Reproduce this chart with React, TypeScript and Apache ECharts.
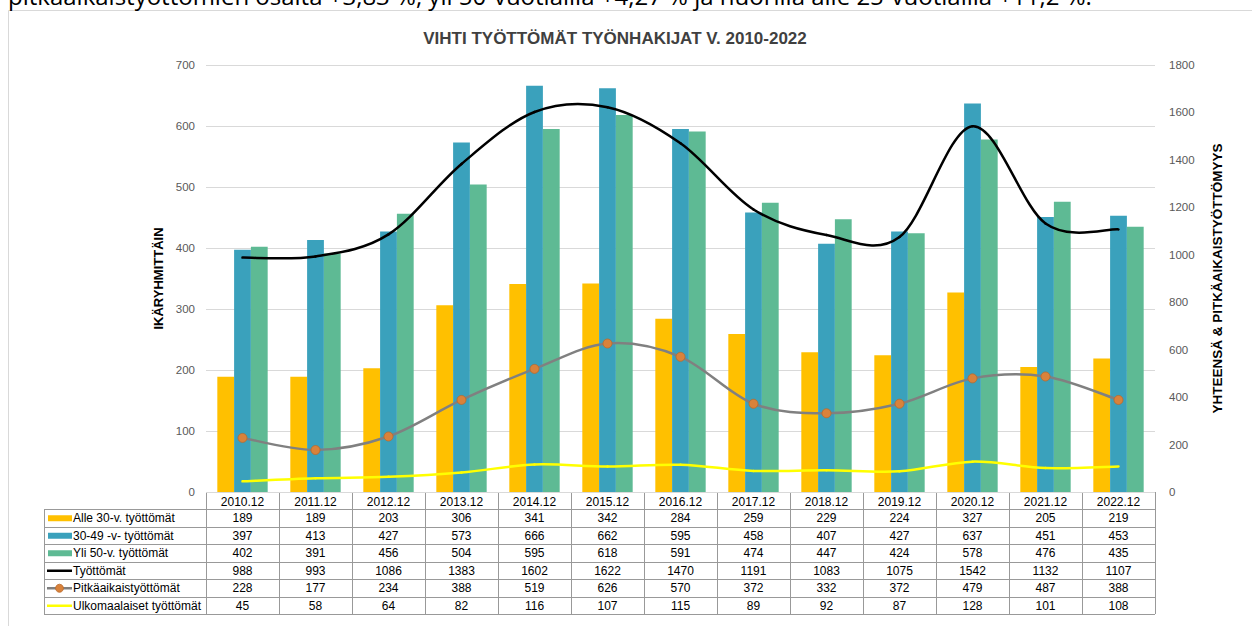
import React, { useEffect, useRef } from "react";
import * as echarts from "echarts";

const categories = ["2010.12","2011.12","2012.12","2013.12","2014.12","2015.12","2016.12","2017.12","2018.12","2019.12","2020.12","2021.12","2022.12"];
const alle30 = [189,189,203,306,341,342,284,259,229,224,327,205,219];
const v3049 = [397,413,427,573,666,662,595,458,407,427,637,451,453];
const yli50 = [402,391,456,504,595,618,591,474,447,424,578,476,435];
const tyottomat = [988,993,1086,1383,1602,1622,1470,1191,1083,1075,1542,1132,1107];
const pitka = [228,177,234,388,519,626,570,372,332,372,479,487,388];
const ulko = [45,58,64,82,116,107,115,89,92,87,128,101,108];

const seriesNames = ["Alle 30-v. työttömät","30-49 -v- työttömät","Yli 50-v. työttömät","Työttömät","Pitkäaikaistyöttömät","Ulkomaalaiset työttömät"];
const seriesData = [alle30, v3049, yli50, tyottomat, pitka, ulko];
const leftTicks = { min: 0, max: 700, interval: 100 };
const rightTicks = { min: 0, max: 1800, interval: 200 };

const titleText = "VIHTI TYÖTTÖMÄT TYÖNHAKIJAT V. 2010-2022";
const topText = "pitkäaikaistyöttömien osalta +3,83 %, yli 50-vuotiailla +4,27 % ja nuorilla alle 25-vuotiailla +11,2 %.";

const C_YEL = "#FFC000";
const C_TEAL = "#3AA1BC";
const C_GREEN = "#5EBA94";

function smoothLine(name: string, values: number[], color: string, width: number, z: number) {
  return {
    name,
    type: "custom",
    yAxisIndex: 1,
    z,
    data: values.map((v, i) => [i, v]),
    encode: { x: 0, y: 1 },
    renderItem: (params: any, api: any) => {
      const i = params.dataIndex;
      const n = values.length;
      if (i >= n - 1) return null;
      const pt = (k: number) => {
        const kk = Math.max(0, Math.min(n - 1, k));
        return api.coord([api.value(0, kk), api.value(1, kk)]);
      };
      const p0 = pt(i - 1), p1 = pt(i), p2 = pt(i + 1), p3 = pt(i + 2);
      const t = 1 / 6;
      return {
        type: "bezierCurve",
        shape: {
          x1: p1[0], y1: p1[1], x2: p2[0], y2: p2[1],
          cpx1: p1[0] + (p2[0] - p0[0]) * t, cpy1: p1[1] + (p2[1] - p0[1]) * t,
          cpx2: p2[0] - (p3[0] - p1[0]) * t, cpy2: p2[1] - (p3[1] - p1[1]) * t,
        },
        style: { stroke: color, lineWidth: width, fill: "none", lineCap: "round" },
      };
    },
  };
}

export default function App() {
  const ref = useRef<HTMLDivElement>(null);
  useEffect(() => {
    if (!ref.current) return;
    const chart = echarts.init(ref.current, null, { renderer: "svg" });
    const GL = 206, GR = 1155, GT = 65, GB = 492;
    const n = categories.length;
    const colW = (GR - GL) / n;
    const rowTop = 509, rowH = 17.5;
    const lineC = "#999999";
    const font = "Liberation Sans, Arial, sans-serif";

    const g: any[] = [];
    g.push({ type: "rect", shape: { x: 8.5, y: 10.5, width: 1260, height: 640 }, style: { fill: "none", stroke: "#d9d9d9", lineWidth: 1 }, silent: true });
    g.push({ type: "text", x: 8, y: 7, style: { text: topText, font: "24px 'Open Sans', sans-serif", fill: "#000", verticalAlign: "bottom" } });
    g.push({ type: "line", shape: { x1: GL, y1: GB + 0.5, x2: GR, y2: GB + 0.5 }, style: { stroke: lineC, lineWidth: 1 } });
    for (let r = 0; r <= 6; r++) {
      const y = Math.round(rowTop + r * rowH) + 0.5;
      g.push({ type: "line", shape: { x1: 44, y1: y, x2: GR, y2: y }, style: { stroke: lineC, lineWidth: 1 } });
    }
    for (let i = 0; i <= n; i++) {
      const x = Math.round(GL + i * colW) + 0.5;
      g.push({ type: "line", shape: { x1: x, y1: GB, x2: x, y2: rowTop + 6 * rowH }, style: { stroke: lineC, lineWidth: 1 } });
    }
    g.push({ type: "line", shape: { x1: 44.5, y1: rowTop, x2: 44.5, y2: rowTop + 6 * rowH }, style: { stroke: lineC, lineWidth: 1 } });
    categories.forEach((c, i) => {
      g.push({ type: "text", x: GL + (i + 0.5) * colW, y: (GB + rowTop) / 2 + 1, style: { text: c, font: `12px ${font}`, fill: "#000", align: "center", verticalAlign: "middle" } });
    });
    seriesData.forEach((arr, r) => {
      const cy = rowTop + (r + 0.5) * rowH + 0.5;
      arr.forEach((v, i) => {
        g.push({ type: "text", x: GL + (i + 0.5) * colW, y: cy, style: { text: String(v), font: `12px ${font}`, fill: "#000", align: "center", verticalAlign: "middle" } });
      });
      if (r < 3) {
        const col = [C_YEL, C_TEAL, C_GREEN][r];
        g.push({ type: "rect", shape: { x: 48, y: cy - 3, width: 24, height: 6 }, style: { fill: col } });
      } else if (r === 3) {
        g.push({ type: "line", shape: { x1: 47, y1: cy, x2: 72, y2: cy }, style: { stroke: "#000", lineWidth: 2.5 } });
      } else if (r === 4) {
        g.push({ type: "line", shape: { x1: 47, y1: cy, x2: 72, y2: cy }, style: { stroke: "#808080", lineWidth: 2.5 } });
        g.push({ type: "circle", shape: { cx: 59.5, cy: cy, r: 4 }, style: { fill: "#D9823B", stroke: "#B86A2C", lineWidth: 0.8 } });
      } else {
        g.push({ type: "line", shape: { x1: 47, y1: cy, x2: 72, y2: cy }, style: { stroke: "#FFFF00", lineWidth: 2.5 } });
      }
      g.push({ type: "text", x: 73, y: cy, style: { text: seriesNames[r], font: `12px ${font}`, fill: "#000", align: "left", verticalAlign: "middle" } });
    });

    const option: any = {
      animation: false,
      backgroundColor: "#fff",
      title: {
        text: titleText,
        left: 610,
        textAlign: "center",
        top: 25,
        textStyle: { fontFamily: font, fontSize: 17, fontWeight: "bold", color: "#404040" },
      },
      grid: { left: GL, right: 1252 - GR, top: GT, bottom: 626 - GB, containLabel: false },
      xAxis: {
        type: "category",
        data: categories,
        axisLine: { show: false },
        axisTick: { show: false },
        axisLabel: { show: false },
      },
      yAxis: [
        {
          type: "value",
          ...leftTicks,
          name: "IKÄRYHMITTÄIN",
          nameLocation: "middle",
          nameGap: 40,
          nameRotate: 90,
          nameTextStyle: { fontFamily: font, fontSize: 13, fontWeight: "bold", color: "#000" },
          axisLabel: { fontFamily: font, fontSize: 11.5, color: "#595959", margin: 11 },
          axisLine: { show: false },
          axisTick: { show: false },
          splitLine: { lineStyle: { color: "#d9d9d9", width: 1 } },
        },
        {
          type: "value",
          ...rightTicks,
          name: "YHTEENSÄ & PITKÄAIKAISTYÖTTÖMYYS",
          nameLocation: "middle",
          nameGap: 55,
          nameRotate: 90,
          nameTextStyle: { fontFamily: font, fontSize: 13.5, fontWeight: "bold", color: "#000" },
          axisLabel: { fontFamily: font, fontSize: 11.5, color: "#595959", margin: 14, formatter: (v: number) => String(v) },
          axisLine: { show: false },
          axisTick: { show: false },
          splitLine: { show: false },
        },
      ],
      series: [
        { name: seriesNames[0], type: "bar", data: alle30, yAxisIndex: 0, itemStyle: { color: C_YEL }, barGap: "0%", barCategoryGap: "31%" },
        { name: seriesNames[1], type: "bar", data: v3049, yAxisIndex: 0, itemStyle: { color: C_TEAL }, barGap: "0%", barCategoryGap: "31%" },
        { name: seriesNames[2], type: "bar", data: yli50, yAxisIndex: 0, itemStyle: { color: C_GREEN }, barGap: "0%", barCategoryGap: "31%" },
        smoothLine(seriesNames[5], ulko, "#FFFF00", 2.5, 4),
        smoothLine(seriesNames[4], pitka, "#808080", 2.5, 5),
        {
          name: seriesNames[4] + " ",
          type: "scatter",
          yAxisIndex: 1,
          data: pitka,
          symbol: "circle",
          symbolSize: 9,
          itemStyle: { color: "#D9823B", borderColor: "#B86A2C", borderWidth: 0.8, opacity: 1 },
          z: 6,
        },
        smoothLine(seriesNames[3], tyottomat, "#000000", 2.5, 7),
      ],
      graphic: g,
    };
    chart.setOption(option);
    return () => chart.dispose();
  }, []);
  return <div ref={ref} style={{ position: "absolute", left: 0, top: 0, width: 1252, height: 626 }} />;
}
